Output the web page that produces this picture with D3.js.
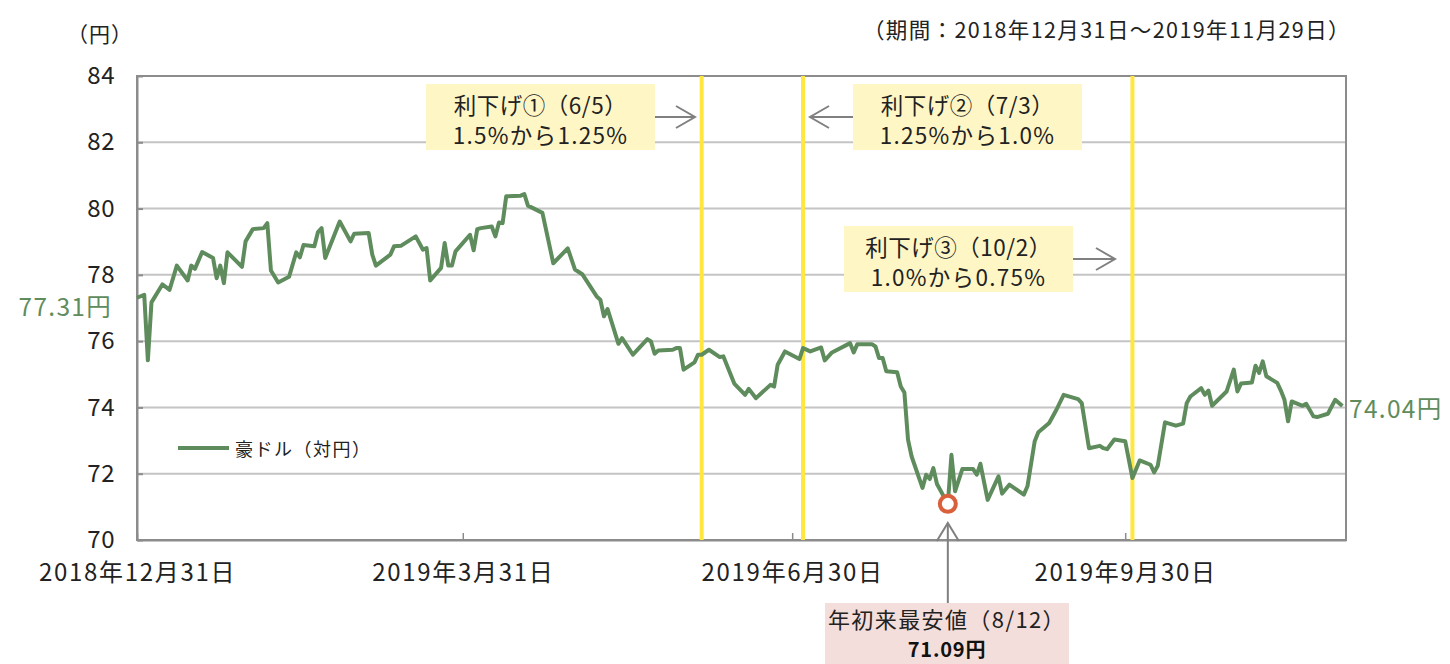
<!DOCTYPE html>
<html>
<head>
<meta charset="utf-8">
<script src="https://cdn.jsdelivr.net/npm/d3@7"></script>
<style>
  body { margin: 0; background: #fff; }
  svg { display: block; font-family: "Noto Sans CJK JP", "Noto Sans", sans-serif; }
  .axis text { fill: #222; }
</style>
</head>
<body>
<div id="chart"></div>
<script>
// AUD/JPY daily close, 2018/12/31 - 2019/11/29
const dates = [
  '2018-12-31','2019-01-02','2019-01-03','2019-01-04','2019-01-07','2019-01-09','2019-01-11','2019-01-14','2019-01-15','2019-01-16',
  '2019-01-18','2019-01-21','2019-01-22','2019-01-23','2019-01-24','2019-01-25','2019-01-29','2019-01-30','2019-02-01','2019-02-04',
  '2019-02-05','2019-02-06','2019-02-08','2019-02-11','2019-02-13','2019-02-14','2019-02-15','2019-02-18','2019-02-19','2019-02-20',
  '2019-02-21','2019-02-25','2019-02-28','2019-03-01','2019-03-05','2019-03-06','2019-03-07','2019-03-11','2019-03-12','2019-03-14',
  '2019-03-18','2019-03-20','2019-03-21','2019-03-22','2019-03-25','2019-03-26','2019-03-27','2019-03-28','2019-03-29','2019-04-02',
  '2019-04-03','2019-04-04','2019-04-05','2019-04-08','2019-04-09','2019-04-10','2019-04-11','2019-04-12','2019-04-16','2019-04-17',
  '2019-04-18','2019-04-22','2019-04-25','2019-04-29','2019-05-01','2019-05-03','2019-05-07','2019-05-08','2019-05-09','2019-05-10',
  '2019-05-13','2019-05-14','2019-05-17','2019-05-21','2019-05-22','2019-05-23','2019-05-24','2019-05-28','2019-05-29','2019-05-30',
  '2019-05-31','2019-06-03','2019-06-04','2019-06-05','2019-06-07','2019-06-10','2019-06-11','2019-06-14','2019-06-17','2019-06-18',
  '2019-06-20','2019-06-24','2019-06-25','2019-06-26','2019-06-28','2019-07-02','2019-07-03','2019-07-05','2019-07-08','2019-07-09',
  '2019-07-11','2019-07-16','2019-07-17','2019-07-18','2019-07-22','2019-07-23','2019-07-24','2019-07-25','2019-07-26','2019-07-29',
  '2019-07-30','2019-07-31','2019-08-01','2019-08-02','2019-08-05','2019-08-06','2019-08-07','2019-08-08','2019-08-09','2019-08-12',
  '2019-08-13','2019-08-14','2019-08-16','2019-08-19','2019-08-20','2019-08-21','2019-08-23','2019-08-26','2019-08-27','2019-08-29',
  '2019-09-02','2019-09-03','2019-09-05','2019-09-06','2019-09-09','2019-09-11','2019-09-13','2019-09-17','2019-09-18','2019-09-20',
  '2019-09-23','2019-09-24','2019-09-25','2019-09-27','2019-09-30','2019-10-02','2019-10-04','2019-10-07','2019-10-08','2019-10-09',
  '2019-10-11','2019-10-14','2019-10-16','2019-10-17','2019-10-18','2019-10-21','2019-10-22','2019-10-23','2019-10-24','2019-10-28',
  '2019-10-30','2019-10-31','2019-11-01','2019-11-04','2019-11-05','2019-11-06','2019-11-07','2019-11-08','2019-11-11','2019-11-12',
  '2019-11-13','2019-11-14','2019-11-15','2019-11-18','2019-11-19','2019-11-21','2019-11-22','2019-11-25','2019-11-27','2019-11-29'
];
const audjpy = [
  77.31, 77.40, 75.42, 77.17, 77.71, 77.55, 78.28, 77.83, 78.28, 78.18,
  78.69, 78.51, 77.90, 78.28, 77.75, 78.68, 78.24, 79.01, 79.38, 79.41,
  79.56, 78.13, 77.77, 77.94, 78.68, 78.53, 78.90, 78.86, 79.29, 79.41,
  78.51, 79.61, 79.01, 79.24, 79.26, 78.61, 78.28, 78.61, 78.86, 78.88,
  79.16, 78.76, 78.81, 77.83, 78.21, 78.96, 78.28, 78.28, 78.71, 79.21,
  78.74, 79.38, 79.41, 79.46, 79.16, 79.58, 79.56, 80.37, 80.39, 80.44,
  80.09, 79.87, 78.35, 78.80, 78.16, 78.02, 77.35, 77.25, 76.75, 76.97,
  75.92, 76.09, 75.59, 76.06, 75.99, 75.62, 75.72, 75.74, 75.79, 75.79,
  75.14, 75.36, 75.59, 75.59, 75.74, 75.52, 75.54, 74.72, 74.38, 74.56,
  74.28, 74.68, 74.63, 75.29, 75.69, 75.46, 75.79, 75.69, 75.81, 75.42,
  75.66, 75.94, 75.66, 75.91, 75.91, 75.84, 75.49, 75.49, 75.09, 75.06,
  74.63, 74.45, 73.03, 72.52, 71.57, 71.97, 71.84, 72.17, 71.69, 71.09,
  72.57, 71.47, 72.14, 72.14, 71.97, 72.30, 71.21, 71.92, 71.40, 71.67,
  71.37, 71.62, 72.98, 73.25, 73.53, 73.93, 74.38, 74.25, 74.13, 72.77,
  72.84, 72.77, 72.74, 73.03, 72.98, 71.87, 72.40, 72.27, 72.04, 72.24,
  73.55, 73.45, 73.51, 74.13, 74.33, 74.58, 74.38, 74.51, 74.05, 74.48,
  75.14, 74.48, 74.72, 74.75, 75.26, 75.04, 75.39, 74.94, 74.74, 74.51,
  74.23, 73.58, 74.18, 74.05, 74.11, 73.73, 73.71, 73.81, 74.23, 74.04
];

const yTicks = [70, 72, 74, 76, 78, 80, 82, 84];
const xTickDates = ['2018-12-31', '2019-03-31', '2019-06-30', '2019-09-30'];
const cutDates = ['2019-06-05', '2019-07-03', '2019-10-02'];
const cutTitles = ['利下げ①（6/5）', '利下げ②（7/3）', '利下げ③（10/2）'];
const cutRates = ['1.5%から1.25%', '1.25%から1.0%', '1.0%から0.75%'];
const lowDate = '2019-08-12';
const lowValue = 71.09;

const parse = d3.timeParse('%Y-%m-%d');
const data = dates.map((d, i) => ({ date: parse(d), value: audjpy[i] }));

const W = 1450, H = 664;
const margin = { top: 76, right: 104, bottom: 124, left: 137 };
const width = W - margin.left - margin.right,
  height = H - margin.top - margin.bottom;

const green = '#5f8c5c';

const svg = d3.select('#chart').append('svg')
  .attr('width', W)
  .attr('height', H);

const g = svg.append('g')
  .attr('transform', `translate(${margin.left},${margin.top})`);

const x = d3.scaleTime([parse('2018-12-31'), parse('2019-11-30')], [0, width]);
const y = d3.scaleLinear([70, 84], [height, 0]);

// gridlines
g.append('g')
  .selectAll('line')
  .data(yTicks.slice(1))
  .join('line')
  .attr('x1', 0).attr('x2', width)
  .attr('y1', d => y(d)).attr('y2', d => y(d))
  .attr('stroke', '#c4c4c4')
  .attr('stroke-width', 2);

// plot border
g.append('rect')
  .attr('width', width).attr('height', height)
  .attr('fill', 'none')
  .attr('stroke', '#8c8c8c')
  .attr('stroke-width', 2);

// y axis
const yAxis = d3.axisLeft(y).tickValues(yTicks).tickSizeInner(-6).tickSizeOuter(0).tickPadding(22);
g.append('g').attr('class', 'axis').call(yAxis)
  .call(s => s.select('.domain').attr('stroke', '#8c8c8c').attr('stroke-width', 2))
  .call(s => s.selectAll('.tick line').attr('stroke', '#8c8c8c').attr('stroke-width', 2))
  .call(s => s.selectAll('.tick text').attr('font-size', 24).attr('letter-spacing', 0.5).attr('font-family', '"Noto Sans CJK JP"'));

// x axis
const fmt = d3.timeFormat('%Y年%-m月%-d日');
const xAxis = d3.axisBottom(x).tickValues(xTickDates.map(parse)).tickFormat(fmt)
  .tickSizeInner(-7).tickSizeOuter(0).tickPadding(24);
g.append('g').attr('class', 'axis')
  .attr('transform', `translate(0,${height})`)
  .call(xAxis)
  .call(s => s.select('.domain').attr('stroke', '#8c8c8c').attr('stroke-width', 2))
  .call(s => s.selectAll('.tick line').attr('stroke', '#8c8c8c').attr('stroke-width', 1.5))
  .call(s => s.selectAll('.tick text').attr('font-size', 24).attr('letter-spacing', 1.7).attr('font-family', '"Noto Sans CJK JP"'));

// rate cut markers
g.append('g')
  .selectAll('line')
  .data(cutDates)
  .join('line')
  .attr('x1', d => x(parse(d))).attr('x2', d => x(parse(d)))
  .attr('y1', 0).attr('y2', height)
  .attr('stroke', '#ffe740')
  .attr('stroke-width', 4);

// main series
const line = d3.line().x(d => x(d.date)).y(d => y(d.value));
g.append('path')
  .datum(data)
  .attr('fill', 'none')
  .attr('stroke', green)
  .attr('stroke-width', 4)
  .attr('stroke-linejoin', 'round')
  .attr('d', line);

// low point ring
g.append('circle')
  .attr('cx', x(parse(lowDate)))
  .attr('cy', y(lowValue))
  .attr('r', 8)
  .attr('fill', '#fff')
  .attr('stroke', '#d9603b')
  .attr('stroke-width', 4);

// annotation boxes (pixel layout, page coords)
const boxes = [
  { x: 426, y: 84, w: 229, h: 66, arrow: [655, 695, 117] },
  { x: 853, y: 84, w: 229, h: 66, arrow: [853, 810, 117] },
  { x: 844, y: 226, w: 229, h: 66, arrow: [1073, 1115, 259] }
];

function arrowH(sel, x1, x2, yy) {
  const dir = x2 > x1 ? 1 : -1;
  sel.append('line').attr('x1', x1).attr('x2', x2).attr('y1', yy).attr('y2', yy);
  sel.append('polyline')
    .attr('points', `${x2 - dir * 19},${yy - 11} ${x2},${yy} ${x2 - dir * 19},${yy + 11}`)
    .attr('fill', 'none');
}

const ann = svg.append('g');
boxes.forEach((b, i) => {
  ann.append('rect')
    .attr('x', b.x).attr('y', b.y).attr('width', b.w).attr('height', b.h)
    .attr('fill', '#fff6c6');
  ann.append('text')
    .attr('x', b.x + b.w / 2).attr('y', b.y + 20)
    .attr('text-anchor', 'middle').attr('dominant-baseline', 'central')
    .attr('font-size', 22.5).attr('letter-spacing', 0.5).attr('fill', '#222')
    .text(cutTitles[i]);
  ann.append('text')
    .attr('x', b.x + b.w / 2).attr('y', b.y + 50)
    .attr('text-anchor', 'middle').attr('dominant-baseline', 'central')
    .attr('font-size', 22.5).attr('letter-spacing', 1.3).attr('fill', '#222')
    .text(cutRates[i]);
  const a = ann.append('g').attr('stroke', '#808080').attr('stroke-width', 2);
  arrowH(a, b.arrow[0], b.arrow[1], b.arrow[2]);
});

// low point box + arrow
const lowX = margin.left + x(parse(lowDate));
ann.append('rect')
  .attr('x', 825).attr('y', 603).attr('width', 244).attr('height', 61)
  .attr('fill', '#f4dedb');
ann.append('text')
  .attr('x', 947).attr('y', 618)
  .attr('text-anchor', 'middle').attr('dominant-baseline', 'central')
  .attr('font-size', 22).attr('letter-spacing', 1.4).attr('fill', '#222')
  .text('年初来最安値（8/12）');
ann.append('text')
  .attr('x', 947).attr('y', 648)
  .attr('text-anchor', 'middle').attr('dominant-baseline', 'central')
  .attr('font-size', 20).attr('font-weight', 'bold').attr('letter-spacing', 0.8).attr('fill', '#111')
  .text(`${lowValue.toFixed(2)}円`);
const up = ann.append('g').attr('stroke', '#808080').attr('stroke-width', 2).attr('fill', 'none');
up.append('line').attr('x1', lowX).attr('x2', lowX).attr('y1', 603).attr('y2', 523);
up.append('polyline').attr('points', `${lowX - 11},${541} ${lowX},${523} ${lowX + 11},${541}`);

// start / end value labels
const first = data[0], last = data[data.length - 1];
svg.append('text')
  .attr('x', 112).attr('y', 305)
  .attr('text-anchor', 'end').attr('dominant-baseline', 'central')
  .attr('font-size', 24.5).attr('letter-spacing', 1.3).attr('fill', green)
  .text(`${first.value.toFixed(2)}円`);
svg.append('text')
  .attr('x', 1349).attr('y', 407)
  .attr('text-anchor', 'start').attr('dominant-baseline', 'central')
  .attr('font-size', 24.5).attr('letter-spacing', 1.3).attr('fill', green)
  .text(`${last.value.toFixed(2)}円`);

// legend
const lg = svg.append('g').attr('transform', 'translate(178,448)');
lg.append('line').attr('x1', 0).attr('x2', 51).attr('stroke', green).attr('stroke-width', 4);
lg.append('text').attr('x', 57).attr('dominant-baseline', 'central')
  .attr('font-size', 18).attr('letter-spacing', 1.5).attr('fill', '#222')
  .text('豪ドル（対円）');

// unit + period
svg.append('text')
  .attr('x', 100).attr('y', 33)
  .attr('text-anchor', 'middle').attr('dominant-baseline', 'central')
  .attr('font-size', 21).attr('letter-spacing', 1).attr('fill', '#222')
  .text('（円）');
svg.append('text')
  .attr('x', 1351).attr('y', 28)
  .attr('text-anchor', 'end').attr('dominant-baseline', 'central')
  .attr('font-size', 21.5).attr('letter-spacing', 1.4).attr('fill', '#222')
  .text('（期間：2018年12月31日～2019年11月29日）');
</script>
</body>
</html>
